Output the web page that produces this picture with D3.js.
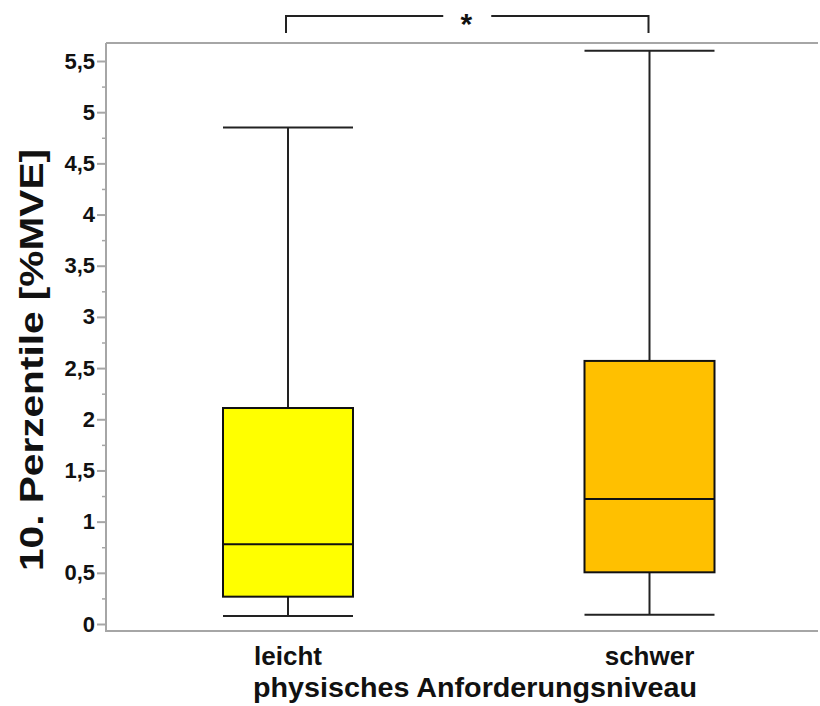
<!DOCTYPE html>
<html>
<head>
<meta charset="utf-8">
<script src="https://cdn.jsdelivr.net/npm/d3@7"></script>
<style>
  html, body { margin: 0; padding: 0; background: #fff; }
  svg { display: block; font-family: "Liberation Sans", Arial, sans-serif; }
</style>
</head>
<body>
<svg id="chart" width="820" height="706"></svg>
<script>
// Box plot data: 10th percentile of EMG (%MVE) by physical demand level
const categories = ["leicht", "schwer"];
const whiskerLow  = [0.078, 0.09];
const quartile1   = [0.267, 0.505];
const medians     = [0.78, 1.22];
const quartile3   = [2.11, 2.57];
const whiskerHigh = [4.85, 5.6];
const boxColors   = ["#ffff00", "#ffc000"];
const majorTicks  = [0, 0.5, 1, 1.5, 2, 2.5, 3, 3.5, 4, 4.5, 5, 5.5];
const minorTicks  = [0.25, 0.75, 1.25, 1.75, 2.25, 2.75, 3.25, 3.75, 4.25, 4.75, 5.25];
const yTitle = "10. Perzentile [%MVE]";
const xTitle = "physisches Anforderungsniveau";
const sigLabel = "*";

const svg = d3.select("#chart");

const frame = { left: 106, right: 818, top: 43, bottom: 631 };
const y = d3.scaleLinear().domain([0, 5.5]).range([624, 61]);
const x = d3.scalePoint().domain(categories).range([288, 649.5]);
const boxW = 130;

const axisColor = "#a6a6a6";

// plot frame: left, top and bottom rules
svg.append("line").attr("x1", frame.left).attr("x2", frame.left)
  .attr("y1", frame.top).attr("y2", frame.bottom + 1)
  .attr("stroke", axisColor).attr("stroke-width", 2);
svg.append("line").attr("x1", frame.left).attr("x2", frame.right)
  .attr("y1", frame.top).attr("y2", frame.top)
  .attr("stroke", axisColor).attr("stroke-width", 2);
svg.append("line").attr("x1", frame.left).attr("x2", frame.right)
  .attr("y1", frame.bottom).attr("y2", frame.bottom)
  .attr("stroke", axisColor).attr("stroke-width", 2);

// y axis with major labelled ticks
const fmt = d => String(d).replace(".", ",");
const yAxis = d3.axisLeft(y).tickValues(majorTicks).tickFormat(fmt)
  .tickSize(9).tickPadding(2);
const gy = svg.append("g").attr("transform", `translate(${frame.left},0)`).call(yAxis);
gy.select(".domain").remove();
gy.selectAll(".tick line").attr("stroke", axisColor).attr("stroke-width", 2);
gy.selectAll(".tick text")
  .attr("fill", "#111").attr("font-size", 22).attr("font-weight", "bold")
  .attr("font-family", "'Liberation Sans', Arial, sans-serif");

// minor ticks
const yMinor = d3.axisLeft(y).tickValues(minorTicks).tickFormat("").tickSize(4);
const gm = svg.append("g").attr("transform", `translate(${frame.left},0)`).call(yMinor);
gm.select(".domain").remove();
gm.selectAll(".tick line").attr("stroke", axisColor).attr("stroke-width", 1.5);

// boxes
const data = categories.map((c, i) => ({
  c, lo: whiskerLow[i], q1: quartile1[i], med: medians[i], q3: quartile3[i], hi: whiskerHigh[i], color: boxColors[i]
}));

const g = svg.append("g");
const box = g.selectAll("g.box").data(data).join("g").attr("class", "box");

// whisker stems
box.append("line")
  .attr("x1", d => x(d.c)).attr("x2", d => x(d.c))
  .attr("y1", d => y(d.hi)).attr("y2", d => y(d.q3))
  .attr("stroke", "#222").attr("stroke-width", 2);
box.append("line")
  .attr("x1", d => x(d.c)).attr("x2", d => x(d.c))
  .attr("y1", d => y(d.q1)).attr("y2", d => y(d.lo))
  .attr("stroke", "#222").attr("stroke-width", 2);
// whisker caps
box.append("line")
  .attr("x1", d => x(d.c) - boxW / 2).attr("x2", d => x(d.c) + boxW / 2)
  .attr("y1", d => y(d.hi)).attr("y2", d => y(d.hi))
  .attr("stroke", "#222").attr("stroke-width", 2);
box.append("line")
  .attr("x1", d => x(d.c) - boxW / 2).attr("x2", d => x(d.c) + boxW / 2)
  .attr("y1", d => y(d.lo)).attr("y2", d => y(d.lo))
  .attr("stroke", "#222").attr("stroke-width", 2);
// interquartile box
box.append("rect")
  .attr("x", d => x(d.c) - boxW / 2).attr("width", boxW)
  .attr("y", d => y(d.q3)).attr("height", d => y(d.q1) - y(d.q3))
  .attr("fill", d => d.color).attr("stroke", "#111").attr("stroke-width", 2);
// median
box.append("line")
  .attr("x1", d => x(d.c) - boxW / 2).attr("x2", d => x(d.c) + boxW / 2)
  .attr("y1", d => y(d.med)).attr("y2", d => y(d.med))
  .attr("stroke", "#111").attr("stroke-width", 2);

// category labels
svg.selectAll("text.cat").data(categories).join("text").attr("class", "cat")
  .attr("x", d => x(d)).attr("y", 665)
  .attr("text-anchor", "middle").attr("font-size", 26).attr("font-weight", "bold")
  .attr("fill", "#111").text(d => d);

// axis titles
svg.append("text").attr("x", 475).attr("y", 697)
  .attr("text-anchor", "middle").attr("font-size", 28).attr("font-weight", "bold")
  .attr("textLength", 444).attr("lengthAdjust", "spacingAndGlyphs")
  .attr("fill", "#111").text(xTitle);
svg.append("text")
  .attr("transform", "translate(43,360) rotate(-90)")
  .attr("text-anchor", "middle").attr("font-size", 33).attr("font-weight", "bold")
  .attr("textLength", 422).attr("lengthAdjust", "spacingAndGlyphs")
  .attr("fill", "#111").text(yTitle);

// significance bracket between the two groups
const bx1 = x(categories[0]) - 2, bx2 = x(categories[1]) - 1;
const by = 16, byEnd = 33;
const mid = (bx1 + bx2) / 2;
const gap = 24;
const br = svg.append("g").attr("stroke", "#222").attr("stroke-width", 2).attr("fill", "none");
br.append("path").attr("d", `M${bx1},${byEnd}V${by}H${mid - gap}`);
br.append("path").attr("d", `M${mid + gap},${by}H${bx2}V${byEnd}`);
svg.append("text").attr("x", mid - 1).attr("y", 34)
  .attr("text-anchor", "middle").attr("font-size", 30).attr("font-weight", "bold")
  .attr("fill", "#111").text(sigLabel);
</script>
</body>
</html>
